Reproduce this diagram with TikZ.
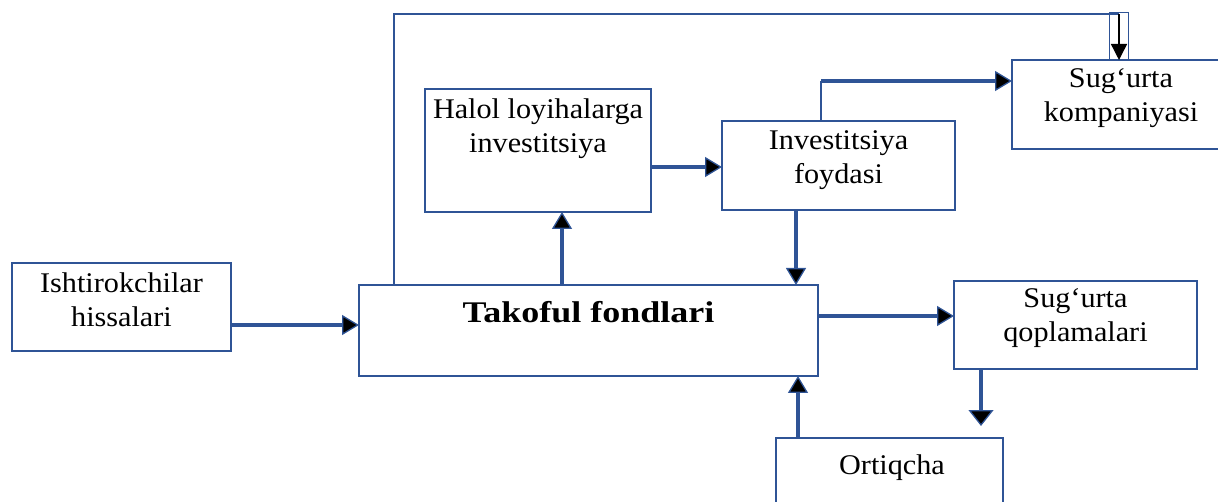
\documentclass[tikz,border=0pt]{standalone}
\usepackage{fontspec}
\setmainfont{Liberation Serif}[FakeStretch=1.06]
\newfontfamily\takfont{Liberation Serif}[FakeStretch=1.2]
\usetikzlibrary{arrows.meta}
\definecolor{bl}{RGB}{47,84,150}
\begin{document}
\begin{tikzpicture}[x=1pt,y=-1pt,
  box/.style={draw=bl, line width=1.7pt, inner sep=0pt, outer sep=0pt, anchor=north west},
  lbl/.style={font=\fontsize{28.5}{34}\selectfont, align=center, inner sep=0pt, anchor=north},
  flow/.style={draw=bl, line width=3.3pt, -{Triangle[length=17pt,width=20pt,fill=black,line width=1.3pt]}},
  flowwide/.style={draw=bl, line width=3.3pt, -{Triangle[length=16pt,width=25pt,fill=black,line width=1.3pt]}},
  thinline/.style={draw=bl, line width=1.7pt},
  blackarrow/.style={draw=black, line width=1.4pt, -{Triangle[length=16pt,width=16pt]}}]
\useasboundingbox (0,0) rectangle (1218,502);
% boxes
\node[box, minimum width=219pt, minimum height=88pt] (ish) at (12,263) {};
\node[box, minimum width=459pt, minimum height=91pt] (tak) at (359,285) {};
\node[box, minimum width=226pt, minimum height=123pt] (hal) at (425,89) {};
\node[box, minimum width=233pt, minimum height=89pt] (foy) at (722,121) {};
\node[box, minimum width=232pt, minimum height=89pt] (komp) at (1012,60) {};
\node[box, minimum width=243pt, minimum height=88pt] (qop) at (954,281) {};
\node[box, minimum width=227pt, minimum height=90pt] (ort) at (776,438) {};
% texts
\node[lbl] (ishT) at (121.5,272.5) {Ishtirokchilar\\hissalari};
\node[lbl, font=\fontsize{30}{34}\takfont\bfseries] (takT) at (588.5,301.5) {Takoful fondlari};
\node[lbl] (halT) at (538,98.5) {Halol loyihalarga\\investitsiya};
\node[lbl] (foyT) at (838.5,130.5) {Investitsiya\\foydasi};
\node[lbl] (kompT) at (1121,68.7) {Sug‘urta\\kompaniyasi};
\node[lbl] (qopT) at (1075.5,288.7) {Sug‘urta\\qoplamalari};
\node[lbl] (ortT) at (892,454.5) {Ortiqcha};
% connectors
\coordinate (a1) at ([yshift=-18pt]ish.east);
\draw[flow] (a1) -- (a1 -| tak.west);
% top loop
\coordinate (topy) at (0,14);
\coordinate (t1) at ([xshift=35pt]tak.north west);
\coordinate (k1) at ([xshift=107pt]komp.north west);
\draw[thinline] (t1) -- (t1 |- topy) -- (k1 |- topy);
\node[draw=bl, line width=1.2pt, minimum width=19pt, minimum height=47pt, inner sep=0pt, anchor=south] (mark) at (k1) {};
\draw[blackarrow] (k1 |- topy) -- (k1);
% up to halol
\coordinate (t2) at ([xshift=203pt]tak.north west);
\draw[flow] (t2) -- (t2 |- hal.south);
% halol -> foydasi
\coordinate (h1) at ([yshift=-16.5pt]hal.east);
\draw[flow] (h1) -- (h1 -| foy.west);
% foydasi -> takoful
\coordinate (f1) at ([xshift=74pt]foy.south west);
\draw[flow] (f1) -- (f1 |- tak.north);
% foydasi -> kompaniyasi
\coordinate (f2) at ([xshift=99pt]foy.north west);
\coordinate (k2) at ([yshift=-21pt]komp.north west);
\draw[thinline] (f2) -- (f2 |- k2);
\draw[flow] (f2 |- k2) -- (k2);
% takoful -> qoplamalari
\coordinate (t3) at ([yshift=14.5pt]tak.east);
\draw[flow] (t3) -- (t3 -| qop.west);
% ortiqcha -> takoful
\coordinate (o1) at ([xshift=22pt]ort.north west);
\draw[flow] (o1) -- (o1 |- tak.south);
% qoplamalari down
\coordinate (q1) at ([xshift=27pt]qop.south west);
\coordinate (q2) at ([yshift=-57pt]q1);
\draw[flowwide] (q1) -- (q2);
\end{tikzpicture}
\end{document}
